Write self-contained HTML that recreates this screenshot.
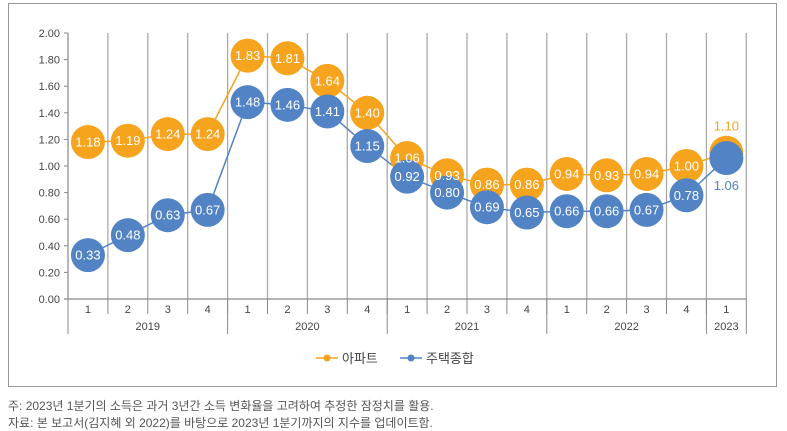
<!DOCTYPE html>
<html><head><meta charset="utf-8">
<style>
body{margin:0;background:#fff;width:787px;height:428px;overflow:hidden;font-family:"Liberation Sans","Noto Sans CJK KR",sans-serif;}
#frame{position:absolute;left:8px;top:3px;width:769px;height:384px;border:1px solid #999;box-sizing:border-box;}
.note{position:absolute;left:8px;font-size:12px;color:#555;white-space:nowrap;}
</style></head><body>
<div id="frame"></div>
<svg id="chart" width="787" height="428" style="position:absolute;left:0;top:0"></svg>
<div class="note" style="top:397px">주: 2023년 1분기의 소득은 과거 3년간 소득 변화율을 고려하여 추정한 잠정치를 활용.</div>
<div class="note" style="top:414px">자료: 본 보고서(김지혜 외 2022)를 바탕으로 2023년 1분기까지의 지수를 업데이트함.</div>
<script>
const quarters=["1","2","3","4","1","2","3","4","1","2","3","4","1","2","3","4","1"];
const years=["2019","2020","2021","2022","2023"];
const yearSpans=[4,4,4,4,1];
const apt=[1.18,1.19,1.24,1.24,1.83,1.81,1.64,1.40,1.06,0.93,0.86,0.86,0.94,0.93,0.94,1.00,1.10];
const house=[0.33,0.48,0.63,0.67,1.48,1.46,1.41,1.15,0.92,0.80,0.69,0.65,0.66,0.66,0.67,0.78,1.06];
const yTicks=[0,0.2,0.4,0.6,0.8,1.0,1.2,1.4,1.6,1.8,2.0];
const X0=68,STEP=39.9,Y0=299,Y1=33;
const xs=i=>X0+STEP*(i+0.5);
const ys=v=>Y0-(v/2)*(Y0-Y1);
const svg=document.getElementById('chart');
const NS='http://www.w3.org/2000/svg';
function mk(t,a,txt){const e=document.createElementNS(NS,t);for(const k in a)e.setAttribute(k,a[k]);if(txt!==undefined)e.textContent=txt;svg.appendChild(e);return e;}
const n=quarters.length;
for(let i=0;i<=n;i++){const g=mk('line',{x1:X0+STEP*i,x2:X0+STEP*i,y1:Y1,y2:Y0,stroke:'#aaa','stroke-width':1.3});}
let ya=mk('line',{x1:X0,x2:X0,y1:Y1,y2:Y0,stroke:'#888'});
yTicks.forEach(v=>{const t=mk('text',{x:X0-8,y:ys(v)+4,'text-anchor':'end','font-size':11,fill:'#444'},v.toFixed(2));
mk('line',{x1:X0-4,x2:X0,y1:ys(v),y2:ys(v),stroke:'#888'});});
let xa=mk('line',{x1:X0-4,x2:X0+STEP*n,y1:Y0,y2:Y0,stroke:'#888','stroke-width':1.3});
quarters.forEach((q,i)=>{const t=mk('text',{x:xs(i),y:313,'text-anchor':'middle','font-size':11,fill:'#444'},q);
mk('line',{x1:X0+STEP*i,x2:X0+STEP*i,y1:Y0,y2:314,stroke:'#888'});});
let acc=0;
mk('line',{x1:X0,x2:X0,y1:Y0,y2:334,stroke:'#888'});
years.forEach((yv,k)=>{const s=acc;acc+=yearSpans[k];const t=mk('text',{x:X0+STEP*(s+acc)/2,y:330,'text-anchor':'middle','font-size':11,fill:'#444'},yv);
mk('line',{x1:X0+STEP*acc,x2:X0+STEP*acc,y1:Y0,y2:334,stroke:'#888'});});
const defs=[[apt,'#f6a31e','apartment',-22],[house,'#5283c5','housing-total',32]];
defs.forEach(([vals,color,name])=>{
  const p=mk('polyline',{points:vals.map((v,i)=>xs(i)+','+ys(v)).join(' '),fill:'none',stroke:color,'stroke-width':1.5});
  
});
defs.forEach(([vals,color,name])=>{
  vals.forEach((v,i)=>{
    const c=mk('circle',{cx:xs(i),cy:ys(v),r:17,fill:color});
    
  });
});
defs.forEach(([vals,color,name,dy])=>{
  vals.forEach((v,i)=>{
    const last=i===vals.length-1;
    const t=mk('text',{x:xs(i),y:ys(v)+(last?dy:4.5),'text-anchor':'middle','font-size':13,fill:last?color:'#fff'},v.toFixed(2));
    
  });
});
const lg=[["아파트",'#f6a31e',316],["주택종합",'#5283c5',400]];
lg.forEach(([lbl,col,x])=>{
  const l=mk('line',{x1:x,x2:x+22,y1:358,y2:358,stroke:col,'stroke-width':1.5});
  
  mk('circle',{cx:x+11,cy:358,r:3.5,fill:col});
  const t=mk('text',{x:x+26,y:363,'font-size':13,fill:'#444'},lbl);
  
});
</script>
</body></html>
